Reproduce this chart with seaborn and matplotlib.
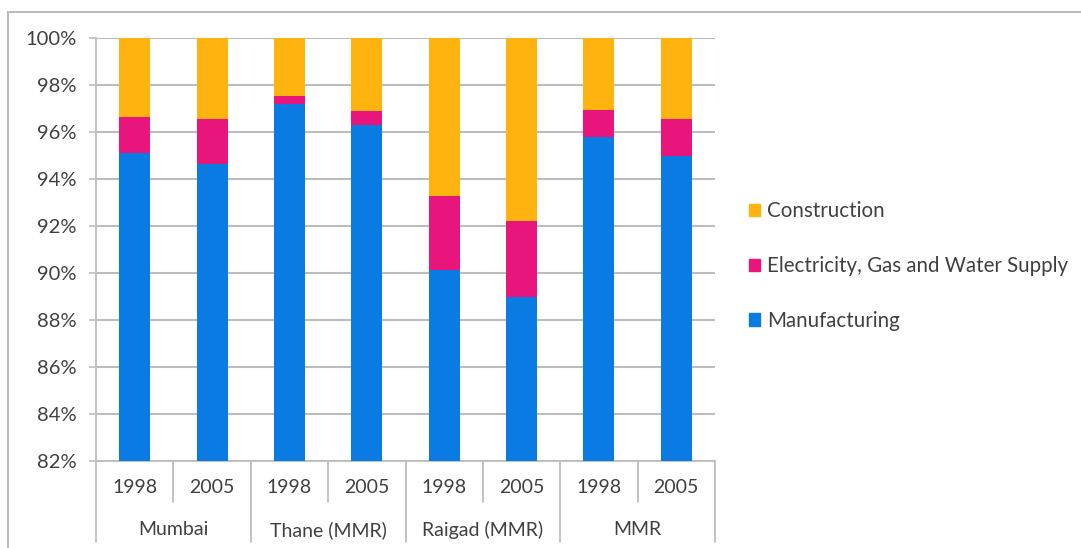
import numpy as np
import pandas as pd
import matplotlib
matplotlib.use("Agg")
import matplotlib.pyplot as plt
from matplotlib.patches import Patch
from matplotlib.lines import Line2D
import seaborn as sns

# shares of industrial output (%)
regions = ["Mumbai", "Thane (MMR)", "Raigad (MMR)", "MMR"]
years = ["1998", "2005"]
manufacturing = [95.1, 94.65, 97.2, 96.3, 90.15, 89.0, 95.8, 95.0]
electricity = [1.55, 1.9, 0.35, 0.6, 3.15, 3.2, 1.15, 1.55]
construction = [3.35, 3.45, 2.45, 3.1, 6.7, 7.8, 3.05, 3.45]
y_ticks = [82, 84, 86, 88, 90, 92, 94, 96, 98, 100]

COL_CON = "#FFB30F"
COL_ELE = "#E8157D"
COL_MAN = "#0A7BE3"
GRID = "#BDBDBD"
TXT = "#404040"

keys = [f"{r} {y}" for r in regions for y in years]
df = pd.DataFrame({
    "key": keys,
    "man": manufacturing,
    "ele": electricity,
    "con": construction,
})
df["top_ele"] = df["man"] + df["ele"]
df["top_con"] = df["top_ele"] + df["con"]

sns.set_style("white")
plt.rcParams["font.family"] = ["Lato", "DejaVu Sans"]

fig = plt.figure(figsize=(10.81, 5.48), dpi=100)
ax = fig.add_axes([96 / 1081, 1 - 461 / 548, 619 / 1081, 422.7 / 548])

# stacked bars: draw cumulative totals from the top layer down
for col, c in [("top_con", COL_CON), ("top_ele", COL_ELE), ("man", COL_MAN)]:
    sns.barplot(data=df, x="key", y=col, order=keys, color=c,
                saturation=1, width=0.4, ax=ax, zorder=3,
                edgecolor="none", linewidth=0)

ax.set_ylim(82, 100)
ax.set_xlim(-0.5, len(keys) - 0.5)
ax.set_yticks(y_ticks)
ax.set_yticklabels([f"{t}%" for t in y_ticks], fontsize=14.5, color=TXT)
ax.set_xticks([])
ax.set_xlabel("")
ax.set_ylabel("")
ax.yaxis.grid(True, color=GRID, lw=1.5, zorder=0)
ax.tick_params(axis="y", length=5, width=1.2, color=GRID, pad=9, left=True)
for s in ["top", "right"]:
    ax.spines[s].set_visible(False)
for s in ["left", "bottom"]:
    ax.spines[s].set_color(GRID)
    ax.spines[s].set_linewidth(1.3)

# two-level category axis
trans = ax.get_xaxis_transform()
for i, k in enumerate(keys):
    ax.text(i, -0.062, k.split()[-1], transform=trans, ha="center",
            va="center", fontsize=14, color=TXT)
for g, r in enumerate(regions):
    ax.text(2 * g + 0.5, -0.163, r, transform=trans, ha="center",
            va="center", fontsize=14, color=TXT)
for b in range(len(keys) + 1):
    lo = -0.192 if b % 2 == 0 else -0.097
    ax.add_line(Line2D([b - 0.5, b - 0.5], [0, lo], transform=trans,
                       color=GRID, lw=1.3, clip_on=False))

handles = [Patch(color=COL_CON), Patch(color=COL_ELE), Patch(color=COL_MAN)]
labels = ["Construction", "Electricity, Gas and Water Supply", "Manufacturing"]
fig.legend(handles, labels, loc="center left", bbox_to_anchor=(730 / 1081, 1 - 266 / 548),
           frameon=False, fontsize=14.8, labelcolor=TXT, handlelength=0.55,
           handleheight=0.55, handletextpad=0.35, labelspacing=1.7)

# thin frame round the picture
fig.add_artist(Line2D([8 / 1081, 1], [1 - 12 / 548, 1 - 12 / 548],
                      transform=fig.transFigure, color=GRID, lw=1.5))
fig.add_artist(Line2D([8 / 1081, 8 / 1081], [0, 1 - 12 / 548],
                      transform=fig.transFigure, color=GRID, lw=1.5))

fig.savefig("out.png", dpi=100)
